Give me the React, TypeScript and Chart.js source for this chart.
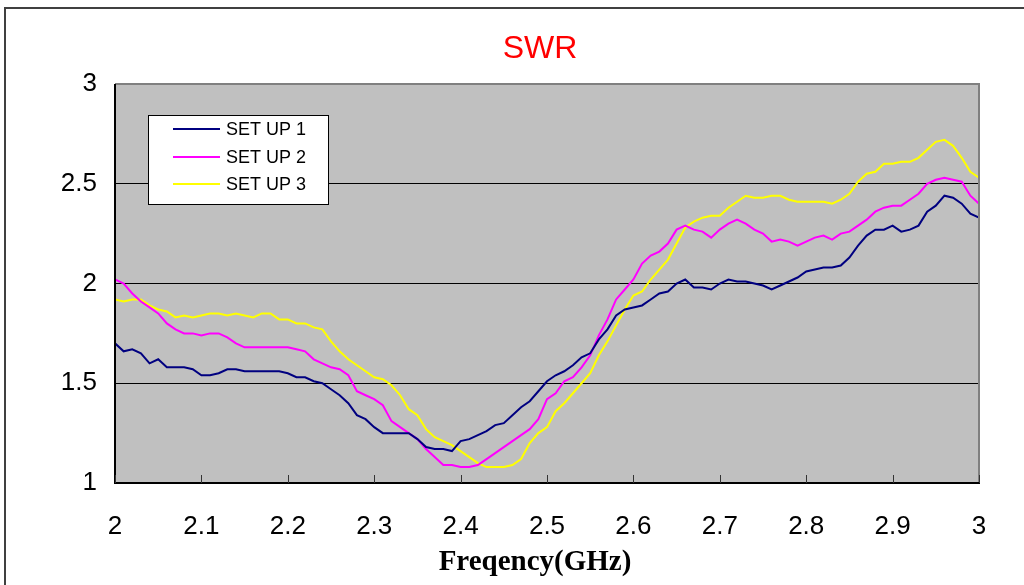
import React, { useEffect, useRef } from "react";
import { Chart, registerables } from "chart.js";

Chart.register(...registerables);

const freq = [
  2.0, 2.01, 2.02, 2.03, 2.04, 2.05, 2.06, 2.07, 2.08, 2.09,
  2.1, 2.11, 2.12, 2.13, 2.14, 2.15, 2.16, 2.17, 2.18, 2.19,
  2.2, 2.21, 2.22, 2.23, 2.24, 2.25, 2.26, 2.27, 2.28, 2.29,
  2.3, 2.31, 2.32, 2.33, 2.34, 2.35, 2.36, 2.37, 2.38, 2.39,
  2.4, 2.41, 2.42, 2.43, 2.44, 2.45, 2.46, 2.47, 2.48, 2.49,
  2.5, 2.51, 2.52, 2.53, 2.54, 2.55, 2.56, 2.57, 2.58, 2.59,
  2.6, 2.61, 2.62, 2.63, 2.64, 2.65, 2.66, 2.67, 2.68, 2.69,
  2.7, 2.71, 2.72, 2.73, 2.74, 2.75, 2.76, 2.77, 2.78, 2.79,
  2.8, 2.81, 2.82, 2.83, 2.84, 2.85, 2.86, 2.87, 2.88, 2.89,
  2.9, 2.91, 2.92, 2.93, 2.94, 2.95, 2.96, 2.97, 2.98, 2.99,
  3.0,
];

const setUp1 = [
  1.70, 1.66, 1.67, 1.65, 1.60, 1.62, 1.58, 1.58, 1.58, 1.57,
  1.54, 1.54, 1.55, 1.57, 1.57, 1.56, 1.56, 1.56, 1.56, 1.56,
  1.55, 1.53, 1.53, 1.51, 1.50, 1.47, 1.44, 1.40, 1.34, 1.32,
  1.28, 1.25, 1.25, 1.25, 1.25, 1.22, 1.18, 1.17, 1.17, 1.16,
  1.21, 1.22, 1.24, 1.26, 1.29, 1.30, 1.34, 1.38, 1.41, 1.46,
  1.51, 1.54, 1.56, 1.59, 1.63, 1.65, 1.72, 1.77, 1.84, 1.87,
  1.88, 1.89, 1.92, 1.95, 1.96, 2.00, 2.02, 1.98, 1.98, 1.97,
  2.00, 2.02, 2.01, 2.01, 2.00, 1.99, 1.97, 1.99, 2.01, 2.03,
  2.06, 2.07, 2.08, 2.08, 2.09, 2.13, 2.19, 2.24, 2.27, 2.27,
  2.29, 2.26, 2.27, 2.29, 2.36, 2.39, 2.44, 2.43, 2.40, 2.35,
  2.33,
];

const setUp2 = [
  2.02, 2.00, 1.95, 1.91, 1.88, 1.85, 1.80, 1.77, 1.75, 1.75,
  1.74, 1.75, 1.75, 1.73, 1.70, 1.68, 1.68, 1.68, 1.68, 1.68,
  1.68, 1.67, 1.66, 1.62, 1.60, 1.58, 1.57, 1.54, 1.46, 1.44,
  1.42, 1.39, 1.31, 1.28, 1.25, 1.22, 1.17, 1.13, 1.09, 1.09,
  1.08, 1.08, 1.09, 1.12, 1.15, 1.18, 1.21, 1.24, 1.27, 1.32,
  1.42, 1.45, 1.51, 1.53, 1.58, 1.64, 1.74, 1.82, 1.92, 1.97,
  2.02, 2.10, 2.14, 2.16, 2.20, 2.27, 2.29, 2.27, 2.26, 2.23,
  2.27, 2.30, 2.32, 2.30, 2.27, 2.25, 2.21, 2.22, 2.21, 2.19,
  2.21, 2.23, 2.24, 2.22, 2.25, 2.26, 2.29, 2.32, 2.36, 2.38,
  2.39, 2.39, 2.42, 2.45, 2.50, 2.52, 2.53, 2.52, 2.51, 2.44,
  2.40,
];

const setUp3 = [
  1.92, 1.91, 1.92, 1.92, 1.89, 1.87, 1.86, 1.83, 1.84, 1.83,
  1.84, 1.85, 1.85, 1.84, 1.85, 1.84, 1.83, 1.85, 1.85, 1.82,
  1.82, 1.80, 1.80, 1.78, 1.77, 1.71, 1.66, 1.62, 1.59, 1.56,
  1.53, 1.52, 1.49, 1.44, 1.37, 1.34, 1.27, 1.23, 1.21, 1.19,
  1.16, 1.13, 1.10, 1.08, 1.08, 1.08, 1.09, 1.12, 1.20, 1.25,
  1.28, 1.36, 1.40, 1.45, 1.50, 1.55, 1.64, 1.71, 1.79, 1.87,
  1.94, 1.96, 2.02, 2.07, 2.12, 2.20, 2.28, 2.31, 2.33, 2.34,
  2.34, 2.38, 2.41, 2.44, 2.43, 2.43, 2.44, 2.44, 2.42, 2.41,
  2.41, 2.41, 2.41, 2.40, 2.42, 2.45, 2.51, 2.55, 2.56, 2.60,
  2.60, 2.61, 2.61, 2.63, 2.67, 2.71, 2.72, 2.69, 2.63, 2.56,
  2.53,
];

const seriesNames = ["SET UP 1", "SET UP 2", "SET UP 3"];
const seriesColors = ["#000080", "#ff00ff", "#ffff00"];
const yGridValues = [1.5, 2, 2.5];

const titleText = "SWR";
const xTitleText = "Freqency(GHz)";

const fmt = (v: number) => String(Number(Number(v).toFixed(1)));

const decoPlugin = {
  id: "deco",
  beforeDraw(chart: any) {
    const { ctx, chartArea: a } = chart;
    ctx.save();
    ctx.fillStyle = "#ffffff";
    ctx.fillRect(0, 0, chart.width, chart.height);
    ctx.fillStyle = "#c0c0c0";
    ctx.fillRect(a.left, a.top, a.right - a.left, a.bottom - a.top);
    ctx.restore();
  },
  afterDraw(chart: any) {
    const { ctx, chartArea: a } = chart;
    ctx.save();

    ctx.lineWidth = 2;
    ctx.strokeStyle = "#808080";
    ctx.beginPath();
    ctx.moveTo(a.left, a.top);
    ctx.lineTo(a.right, a.top);
    ctx.lineTo(a.right, a.bottom);
    ctx.stroke();
    ctx.strokeStyle = "#000000";
    ctx.beginPath();
    ctx.moveTo(a.left, a.top);
    ctx.lineTo(a.left, a.bottom);
    ctx.lineTo(a.right + 1, a.bottom);
    ctx.stroke();

    const xs = chart.scales.x;
    ctx.lineWidth = 1;
    ctx.strokeStyle = "#333333";
    xs.ticks.forEach((t: any) => {
      const px = Math.round(xs.getPixelForValue(t.value)) + 0.5;
      ctx.beginPath();
      ctx.moveTo(px, a.bottom);
      ctx.lineTo(px, a.bottom - 8);
      ctx.stroke();
    });

    ctx.strokeStyle = "#404040";
    ctx.lineWidth = 2;
    ctx.beginPath();
    ctx.moveTo(5, chart.height);
    ctx.lineTo(5, 8);
    ctx.lineTo(chart.width, 8);
    ctx.stroke();

    ctx.fillStyle = "#ff0000";
    ctx.font = '32px "Liberation Sans", Arial, sans-serif';
    ctx.textAlign = "center";
    ctx.textBaseline = "middle";
    ctx.fillText(titleText, 540, 49);

    ctx.fillStyle = "#000000";
    ctx.font = 'bold 29px "Liberation Serif", "Times New Roman", serif';
    ctx.fillText(xTitleText, 535, 563);

    const lx = 148, ly = 115, lw = 180, lh = 89;
    ctx.fillStyle = "#ffffff";
    ctx.fillRect(lx, ly, lw, lh);
    ctx.strokeStyle = "#000000";
    ctx.lineWidth = 1;
    ctx.strokeRect(lx + 0.5, ly + 0.5, lw, lh);
    const rows = [129, 157, 184];
    ctx.font = '18px "Liberation Sans", Arial, sans-serif';
    ctx.textAlign = "left";
    ctx.textBaseline = "middle";
    seriesNames.forEach((n, i) => {
      ctx.strokeStyle = seriesColors[i];
      ctx.lineWidth = 2;
      ctx.beginPath();
      ctx.moveTo(173, rows[i]);
      ctx.lineTo(220, rows[i]);
      ctx.stroke();
      ctx.fillStyle = "#000000";
      ctx.fillText(n, 226, rows[i] + 1);
    });

    ctx.restore();
  },
};

export default function App() {
  const ref = useRef<HTMLCanvasElement | null>(null);

  useEffect(() => {
    if (!ref.current) return;
    const series = [setUp1, setUp2, setUp3];
    const chart = new Chart(ref.current, {
      type: "line",
      data: {
        datasets: series.map((vals, i) => ({
          label: seriesNames[i],
          data: freq.map((f, j) => ({ x: f, y: vals[j] })),
          borderColor: seriesColors[i],
          backgroundColor: seriesColors[i],
          borderWidth: 2,
          pointRadius: 0,
          tension: 0,
          fill: false,
        })),
      },
      options: {
        animation: false,
        responsive: false,
        maintainAspectRatio: false,
        layout: { padding: { top: 84, right: 45, bottom: 42, left: 0 } },
        plugins: {
          legend: { display: false },
          title: { display: false },
          tooltip: { enabled: false },
        },
        scales: {
          x: {
            type: "linear",
            min: 2,
            max: 3,
            afterFit: (s: any) => {
              s.height = 60;
            },
            ticks: {
              stepSize: 0.1,
              autoSkip: false,
              maxRotation: 0,
              padding: 20,
              color: "#000000",
              font: { family: '"Liberation Sans", Arial, sans-serif', size: 26 },
              callback: (v: any) => fmt(v),
            },
            grid: { display: false },
            border: { display: false },
          },
          y: {
            type: "linear",
            min: 1,
            max: 3,
            afterFit: (s: any) => {
              s.width = 115;
            },
            ticks: {
              stepSize: 0.5,
              padding: 18,
              color: "#000000",
              font: { family: '"Liberation Sans", Arial, sans-serif', size: 26 },
              callback: (v: any) => fmt(v),
            },
            grid: {
              drawTicks: false,
              lineWidth: 1,
              color: (c: any) =>
                yGridValues.includes(Number(Number(c.tick.value).toFixed(2)))
                  ? "#000000"
                  : "rgba(0,0,0,0)",
            },
            border: { display: false },
          },
        },
      },
      plugins: [decoPlugin],
    });
    return () => chart.destroy();
  }, []);

  return (
    <div style={{ position: "fixed", left: 0, top: 0, width: 1024, height: 585 }}>
      <canvas ref={ref} width={1024} height={585} style={{ width: 1024, height: 585, display: "block" }} />
    </div>
  );
}
